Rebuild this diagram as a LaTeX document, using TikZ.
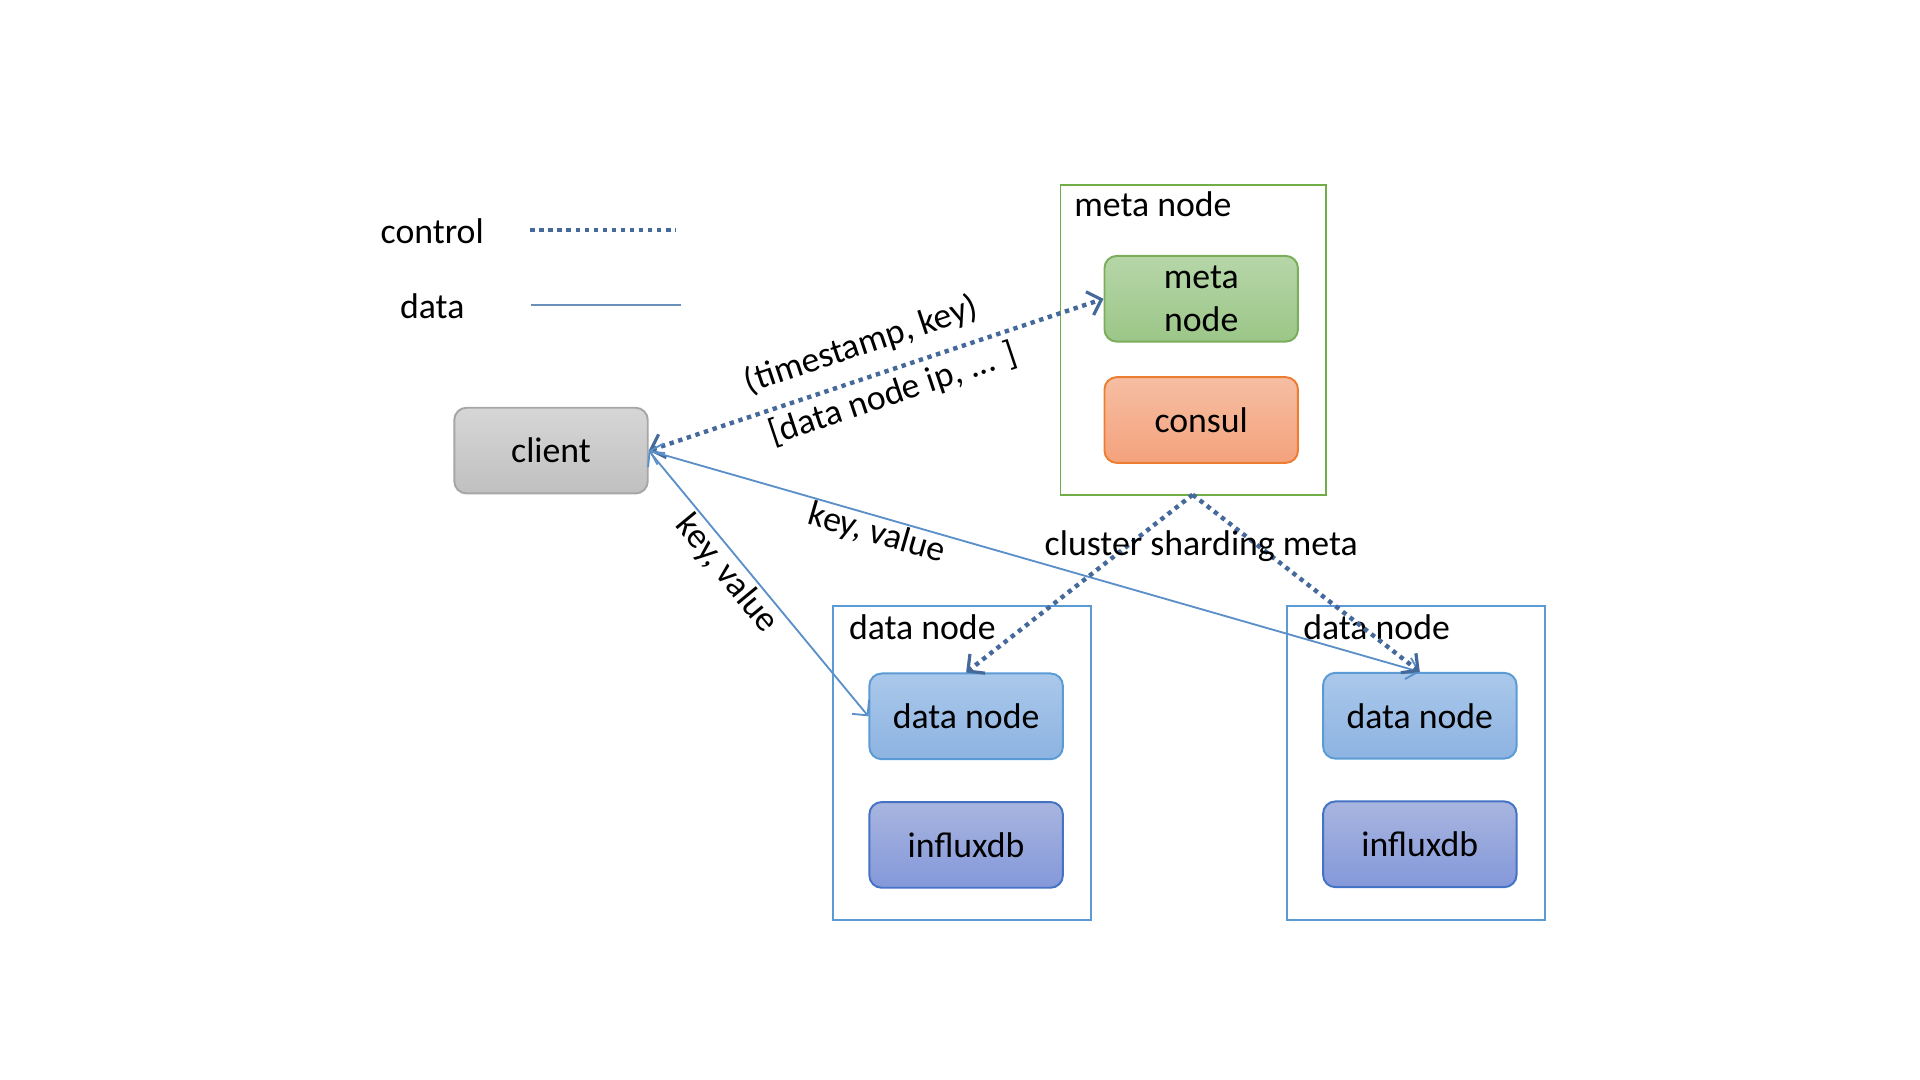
\documentclass[tikz,border=0pt]{standalone}
\usepackage{fontspec}
\setmainfont{Carlito}
\usetikzlibrary{arrows.meta}
\definecolor{ctrl}{HTML}{44699A}
\definecolor{dataln}{HTML}{5B8FC9}
\definecolor{legdata}{HTML}{6A8FB8}
\definecolor{grayB}{HTML}{A6A6A6}
\definecolor{grayT}{HTML}{D6D6D6}
\definecolor{grayM}{HTML}{C0C0C0}
\definecolor{greenB}{HTML}{7AAE5A}
\definecolor{greenT}{HTML}{B6D6A8}
\definecolor{greenM}{HTML}{9CC688}
\definecolor{orB}{HTML}{ED7D31}
\definecolor{orT}{HTML}{F6BEA3}
\definecolor{orM}{HTML}{F4A27C}
\definecolor{blB}{HTML}{5B9BD5}
\definecolor{blT}{HTML}{AAC8EA}
\definecolor{blM}{HTML}{8DB3E2}
\definecolor{inB}{HTML}{4472C4}
\definecolor{inT}{HTML}{A8B5DF}
\definecolor{inM}{HTML}{8498DA}
\definecolor{boxblue}{HTML}{5B9BD5}
\definecolor{boxgreen}{HTML}{70AD47}
\tikzset{
  ctip/.tip={Straight Barb[length=5pt,width=10pt,line width=1.3pt]},
  dtip/.tip={Straight Barb[length=4.5pt,width=9pt,line width=0.75pt]}
}
\begin{document}
\begin{tikzpicture}[x=0.5pt,y=-0.5pt,
  every node/.style={font=\fontsize{14.6}{17.5}\selectfont, text=black},
  inner/.style={rounded corners=5pt, minimum width=79pt, minimum height=35pt, line width=0.8pt, align=center, inner sep=0pt},
  clientbox/.style={inner, draw=grayB, top color=grayT, bottom color=grayM},
  metabox/.style={inner, draw=greenB, top color=greenT, bottom color=greenM},
  consulbox/.style={inner, draw=orB, top color=orT, bottom color=orM},
  dnbox/.style={inner, draw=blB, top color=blT, bottom color=blM},
  influxbox/.style={inner, draw=inB, top color=inT, bottom color=inM},
  outerbox/.style={line width=0.75pt},
  ctrlline/.style={draw=ctrl, line width=1.8pt, dash pattern=on 1.8pt off 1.9pt},
  dataline/.style={draw=dataln, line width=0.75pt}
]
\useasboundingbox (0,0) rectangle (1568,882);

% legend
\node (lctrl) at (353,189) {control};
\node (ldata) at (353,250) {data};
\coordinate (c1) at (433,188);
\coordinate (c2) at (552,188);
\coordinate (d1) at (434,249);
\coordinate (d2) at (556,249);
\draw[ctrlline] (c1) -- (c2);
\draw[draw=legdata, line width=0.8pt] (d1) -- (d2);

% outer boxes
\draw[outerbox, draw=boxgreen] (866,151) rectangle (1083,404);
\draw[outerbox, draw=boxblue] (680,495) rectangle (891,751);
\draw[outerbox, draw=boxblue] (1051,495) rectangle (1262,751);
\coordinate (metabot) at (974,404);
\node[anchor=west, inner sep=0pt] (lmeta) at (877,167) {meta node};
\node[anchor=west, inner sep=0pt] (ldn1) at (693,512) {data node};
\node[anchor=west, inner sep=0pt] (ldn2) at (1064,512) {data node};

% inner nodes
\node[clientbox] (client) at (450,368) {client};
\node[metabox] (meta) at (981,244) {meta\\node};
\node[consulbox] (consul) at (981,343) {consul};
\node[dnbox] (dn1) at (789,585) {data node};
\node[influxbox] (inf1) at (789,690) {influxdb};
\node[dnbox] (dn2) at (1159.5,584.5) {data node};
\node[influxbox] (inf2) at (1159.5,689.5) {influxdb};

% connectors
\draw[ctrlline, {ctip}-{ctip}] (client.east) -- (meta.west)
  node[pos=0.49, sloped, above, inner sep=6pt] {(timestamp, key)}
  node[pos=0.52, sloped, below, inner sep=2.5pt] {[data node ip, ... ]};
\draw[dataline, {dtip}-{dtip}] (client.east) -- (dn1.west)
  node[pos=0.42, sloped, below, inner sep=1pt] {key, value};
\draw[dataline, {dtip}-{dtip}] (client.east) -- (dn2.north)
  node[pos=0.302, sloped, below, inner sep=0.5pt] {key, value};
\draw[ctrlline, -{ctip}] (metabot) -- (dn1.north);
\draw[ctrlline, -{ctip}] (metabot) -- (dn2.north);
\node (lcsm) at (981,446) {cluster sharding meta};
\end{tikzpicture}
\end{document}
